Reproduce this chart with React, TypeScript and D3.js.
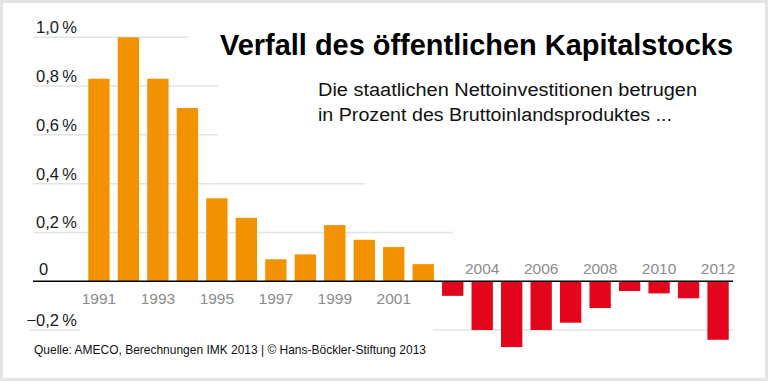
import React from "react";
import * as d3 from "d3";

const years = [1991,1992,1993,1994,1995,1996,1997,1998,1999,2000,2001,2002,2003,2004,2005,2006,2007,2008,2009,2010,2011,2012];
const values = [0.83,1.0,0.83,0.71,0.34,0.26,0.09,0.11,0.23,0.17,0.14,0.07,-0.06,-0.2,-0.27,-0.2,-0.17,-0.11,-0.04,-0.05,-0.07,-0.24];
const yTicks = [-0.2,0,0.2,0.4,0.6,0.8,1.0];
const labeledYearsPos = [1991,1993,1995,1997,1999,2001];
const labeledYearsNeg = [2004,2006,2008,2010,2012];
const title = "Verfall des öffentlichen Kapitalstocks";
const subtitle = ["Die staatlichen Nettoinvestitionen betrugen", "in Prozent des Bruttoinlandsproduktes ..."];
const source = "Quelle: AMECO, Berechnungen IMK 2013 | © Hans-Böckler-Stiftung 2013";

const W = 768, H = 381;
const ORANGE = "#f39200";
const RED = "#e3051b";
const GRID = "#e3e3e3";
const FONT = "'Liberation Sans', Arial, Helvetica, sans-serif";

// gridline visible x-extents (layout)
const gridExtents: Record<string, [number, number][]> = {
  "1": [[33, 188]],
  "0.8": [[33, 218]],
  "0.6": [[33, 218]],
  "0.4": [[33, 365]],
  "0.2": [[33, 453]],
  "-0.2": [[30, 80], [433, 733]],
};

const fmt = (v: number) => {
  if (v === 0) return "0";
  const s = Math.abs(v).toFixed(1).replace(".", ",");
  return (v < 0 ? "\u2212" : "") + s + "\u2009%";
};

export default function App() {
  const x = d3.scaleBand<number>().domain(years).range([84.2, 732.8]).paddingInner(0.277).paddingOuter(0.1385);
  const y = d3.scaleLinear().domain([-0.2, 1.0]).range([330, 37.3]);
  const y0 = y(0);

  return (
    <svg width={W} height={H} style={{ position: "absolute", left: 0, top: 0, background: "#fff" }} fontFamily={FONT}>
      <rect x={1.5} y={1.5} width={W - 3} height={H - 3} fill="#fff" stroke="#e4e4e4" strokeWidth={3} />
      {yTicks.filter(t => t !== 0).map(t => (
        <g key={t}>
          {(gridExtents[String(t)] || []).map(([a, b], i) => (
            <line key={i} x1={a} x2={b} y1={y(t)} y2={y(t)} stroke={GRID} strokeWidth={1.5} />
          ))}
        </g>
      ))}
      {yTicks.map(t => (
        <text key={t} x={t === 0 ? 39 : 77} y={y(t) - (t === 0 ? 6 : 4)} textAnchor={t === 0 ? "start" : "end"}
          fontSize={16.5} fill="#1a1a1a">{fmt(t)}</text>
      ))}
      {years.map((yr, i) => {
        const v = values[i];
        return (
          <rect key={yr} x={x(yr)} width={x.bandwidth()} y={v >= 0 ? y(v) : y0} height={Math.abs(y(v) - y0)}
            fill={v >= 0 ? ORANGE : RED} />
        );
      })}
      <line x1={33} x2={733} y1={y0} y2={y0} stroke="#000" strokeWidth={1.5} />
      {labeledYearsPos.map(yr => (
        <text key={yr} x={(x(yr) || 0) + x.bandwidth() / 2} y={y0 + 22.5} textAnchor="middle" fontSize={15.5} fill="#8c8c8c">{yr}</text>
      ))}
      {labeledYearsNeg.map(yr => (
        <text key={yr} x={(x(yr) || 0) + x.bandwidth() / 2} y={y0 - 7} textAnchor="middle" fontSize={15.5} fill="#8c8c8c">{yr}</text>
      ))}
      <text x={220} y={55} fontSize={29} fontWeight="bold" fill="#000" textLength={513} lengthAdjust="spacingAndGlyphs">{title}</text>
      <text x={318} y={96} fontSize={18} fill="#111" textLength={379} lengthAdjust="spacingAndGlyphs">{subtitle[0]}</text>
      <text x={318} y={120.5} fontSize={18} fill="#111" textLength={354} lengthAdjust="spacingAndGlyphs">{subtitle[1]}</text>
      <text x={34} y={354} fontSize={13.5} fill="#111" textLength={392} lengthAdjust="spacingAndGlyphs">{source}</text>
    </svg>
  );
}
